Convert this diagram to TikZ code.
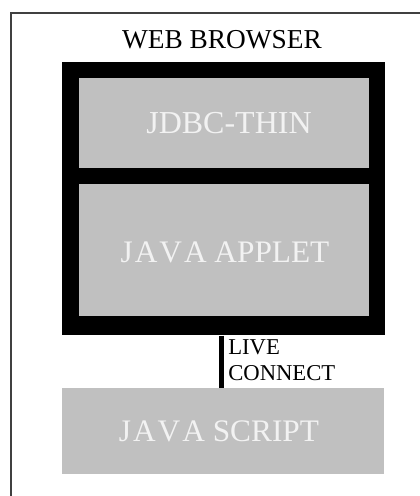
\documentclass[tikz,border=0pt]{standalone}
\usepackage{fontspec}
\setmainfont{Liberation Serif}
\definecolor{panelgray}{HTML}{C0C0C0}
\definecolor{paletext}{HTML}{F2F2F2}
\definecolor{framegray}{HTML}{404040}
\newcommand{\spacedjava}{J\kern1.5pt A\kern1.5pt V\kern1.5pt A}
\begin{document}
\begin{tikzpicture}[x=0.75pt,y=-0.75pt,
  panel/.style={draw=none,fill=panelgray,inner sep=0pt,anchor=north west},
  paneltext/.style={text=paletext,inner sep=0pt},
  holder/.style={draw=none,fill=black,inner sep=0pt,anchor=north west}]
\useasboundingbox (0,0) rectangle (420,496);
% browser frame (only top and left edges inside the page)
\draw[framegray,line width=1.2pt] (11,500) -- (11,13) -- (424,13);
\node[font=\fontsize{20.5pt}{24pt}\selectfont] (title) at (222,40) {WEB BROWSER};
% black holder with the two Java panels
\node[holder,minimum width=323*0.75pt,minimum height=273*0.75pt] (holder) at (62,62) {};
\node[panel,minimum width=290*0.75pt,minimum height=90*0.75pt] (jdbc) at (79,78) {};
\node[paneltext,font=\fontsize{24pt}{26pt}\selectfont] (jdbctext) at (229,123) {JDBC-THIN};
\node[panel,minimum width=290*0.75pt,minimum height=132*0.75pt] (applet) at (79,184) {};
\node[paneltext,font=\fontsize{23.5pt}{26pt}\selectfont] (applettext) at (225,252) {\spacedjava{} APPLET};
% script panel below
\node[panel,minimum width=322*0.75pt,minimum height=86*0.75pt] (js) at (62,388) {};
\node[paneltext,font=\fontsize{23.5pt}{26pt}\selectfont] (jstext) at (219,431) {\spacedjava{} SCRIPT};
% live connect link
\coordinate (lc) at (221.5,0);
\draw[line width=3.75pt] (holder.south -| lc) -- (js.north -| lc);
\node[anchor=north west,align=left,inner sep=0pt,font=\fontsize{17pt}{20pt}\selectfont] (lclabel) at (228,339)
  {LIVE\\CONNECT};
\end{tikzpicture}
\end{document}
